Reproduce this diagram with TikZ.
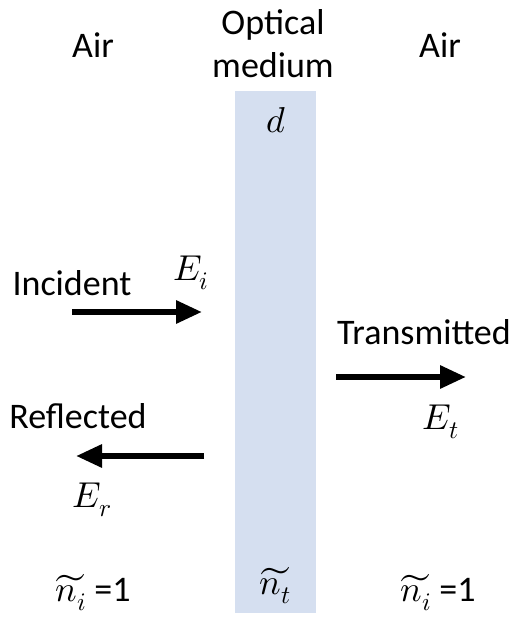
\documentclass[tikz,border=0pt]{standalone}
\usepackage{fontspec}
\usepackage{unicode-math}
\setmainfont{Carlito}
\setmathfont{Latin Modern Math}
\usetikzlibrary{arrows.meta, positioning}
\definecolor{slabblue}{RGB}{213,223,240}
\tikzset{
	labeltext/.style={font=\fontsize{36}{43}\selectfont, inner sep=0pt, align=center}
}
\tikzset{
	beam/.style={line width=6pt, -{Triangle[length=26pt, width=22pt]}, shorten >=-2pt}
}

\begin{document}
\begin{tikzpicture}[x=1pt, y=-1pt]
      \useasboundingbox (0,0) rectangle (512,617);
      % the optical medium
      \fill[slabblue] (235,91) rectangle (316,613);
      \node[labeltext] (airL) at (93,45) {Air};
      \node[labeltext] (optic) at (273,44) {Optical\\medium};
      \node[labeltext] (airR) at (440,45) {Air};
      \node[labeltext] (thick) at (276,120) {$d$};
      % incident beam
      \node[labeltext] (inc) at (72,283) {Incident};
      \node[labeltext] (Ei) at (191,273) {$E_i$};
      \coordinate (incA) at (72,312);
      \coordinate (incB) at (200,312);
      \draw[beam] (incA) -- (incB);
      % transmitted beam
      \node[labeltext] (trans) at (424,332) {Transmitted};
      \coordinate (trA) at (336,377);
      \coordinate (trB) at (464,377);
      \draw[beam] (trA) -- (trB);
      \node[labeltext] (Et) at (441,422) {$E_t$};
      % reflected beam
      \node[labeltext] (refl) at (78,416) {Reflected};
      \coordinate (reA) at (204,456);
      \coordinate (reB) at (78,456);
      \draw[beam] (reA) -- (reB);
      \node[labeltext] (Er) at (92,500) {$E_r$};
      % refractive indices
      \node[labeltext] (niL) at (93,593) {$\widetilde{n_i}$ =1};
      \node[labeltext] (nt) at (275,586) {$\widetilde{n_t}$};
      \node[labeltext] (niR) at (438,593) {$\widetilde{n_i}$ =1};
    \end{tikzpicture}
\end{document}
